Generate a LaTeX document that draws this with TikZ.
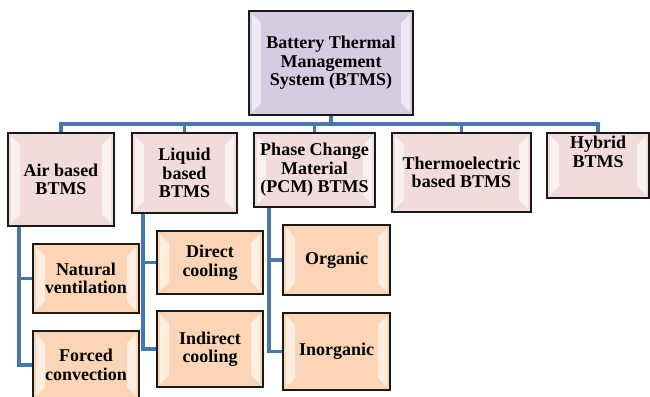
\documentclass[tikz,border=0pt]{standalone}
\usepackage{fontspec}
\setmainfont{Liberation Serif}
\usetikzlibrary{shadows,backgrounds}
\definecolor{topfill}{RGB}{214,204,226}
\definecolor{lvlonefill}{RGB}{242,220,219}
\definecolor{lvltwofill}{RGB}{251,213,181}
\definecolor{connblue}{RGB}{74,118,174}
\definecolor{boxline}{RGB}{25,25,25}
\tikzset{
  boxbase/.style={draw=boxline, line width=1.3pt, inner sep=0pt, align=center,
    font=\fontsize{18}{18.5}\selectfont\bfseries,
    drop shadow={shadow xshift=1.2pt, shadow yshift=-1.2pt, opacity=0.35},
    path picture={
      \fill[white,opacity=0.6]
        ([shift={(3pt,3pt)}]path picture bounding box.south west) --
        ([shift={(12pt,12pt)}]path picture bounding box.south west) --
        ([shift={(12pt,-12pt)}]path picture bounding box.north west) --
        ([shift={(3pt,-3pt)}]path picture bounding box.north west) -- cycle;
      \fill[white,opacity=0.6]
        ([shift={(-3pt,3pt)}]path picture bounding box.south east) --
        ([shift={(-12pt,12pt)}]path picture bounding box.south east) --
        ([shift={(-12pt,-12pt)}]path picture bounding box.north east) --
        ([shift={(-3pt,-3pt)}]path picture bounding box.north east) -- cycle;
    }},
  topbox/.style={boxbase, fill=topfill},
  lvlone/.style={boxbase, fill=lvlonefill},
  lvltwo/.style={boxbase, fill=lvltwofill},
  conn/.style={draw=connblue, line width=3.8pt, line join=miter},
}
\begin{document}
\begin{tikzpicture}[x=1pt,y=-1pt]
\useasboundingbox (0,0) rectangle (650,396);
\clip (0,0) rectangle (650,396);

\node[topbox, minimum width=164pt, minimum height=104pt] (top) at (331,63)
  {Battery Thermal\\Management\\System (BTMS)};

\node[lvlone, minimum width=106pt, minimum height=93pt] (air) at (61,179.5)
  {Air based\\BTMS};
\node[lvlone, minimum width=105pt, minimum height=80pt] (liq) at (184.5,173)
  {Liquid\\based\\BTMS};
\node[lvlone, minimum width=121pt, minimum height=74pt] (pcm) at (314.5,170)
  {Phase Change\\Material\\(PCM) BTMS};
\node[lvlone, minimum width=139pt, minimum height=79pt] (thermo) at (461.5,172.5)
  {Thermoelectric\\based BTMS};
\node[lvlone, minimum width=102pt, minimum height=65pt] (hyb) at (598,165.5)
  {\raisebox{7pt}[0pt][0pt]{\begin{tabular}{@{}c@{}}Hybrid\\BTMS\end{tabular}}};

\node[lvltwo, minimum width=106pt, minimum height=69pt] (nat) at (86,278.5)
  {Natural\\ventilation};
\node[lvltwo, minimum width=106pt, minimum height=68pt] (forced) at (86,365)
  {Forced\\convection};
\node[lvltwo, minimum width=106pt, minimum height=63pt] (direct) at (210,262.5)
  {Direct\\cooling};
\node[lvltwo, minimum width=106pt, minimum height=76pt] (indirect) at (210,349)
  {Indirect\\cooling};
\node[lvltwo, minimum width=107pt, minimum height=70pt] (organic) at (336.5,260)
  {Organic};
\node[lvltwo, minimum width=107pt, minimum height=77pt] (inorganic) at (336.5,351.5)
  {Inorganic};

\begin{scope}[on background layer]
  \coordinate (barY) at (0,124);
  \foreach \c in {air,liq,pcm,thermo,hyb}
    \draw[conn] (top.south) -- (top.south |- barY) -| (\c.north);
  \coordinate (airtrunk) at ([xshift=12pt]air.south west);
  \coordinate (liqtrunk) at ([xshift=12pt]liq.south west);
  \coordinate (pcmtrunk) at ([xshift=16pt]pcm.south west);
  \draw[conn] (airtrunk) |- (nat.west);
  \draw[conn] (airtrunk) |- (forced.west);
  \draw[conn] (liqtrunk) |- (direct.west);
  \draw[conn] (liqtrunk) |- (indirect.west);
  \draw[conn] (pcmtrunk) |- (organic.west);
  \draw[conn] (pcmtrunk) |- (inorganic.west);
\end{scope}
\end{tikzpicture}
\end{document}
